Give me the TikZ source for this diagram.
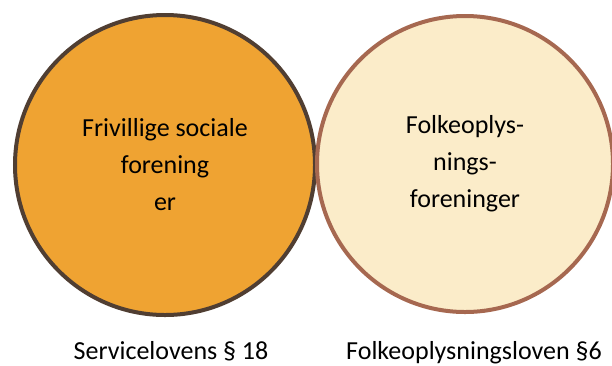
\documentclass[tikz,border=0pt]{standalone}
\usepackage{fontspec}
\setmainfont{Carlito}
\definecolor{orangefill}{RGB}{239,163,50}
\definecolor{darkbrown}{RGB}{80,62,50}
\definecolor{creamfill}{RGB}{251,236,201}
\definecolor{rustbrown}{RGB}{166,104,80}
\begin{document}
\begin{tikzpicture}[x=1bp, y=-1bp, font=\fontsize{26bp}{37bp}\selectfont,
  ring/.style={circle, line width=4bp, align=center, inner sep=0pt},
  law/.style={anchor=base}]

\useasboundingbox (0,0) rectangle (612,365);

\node[ring, draw=darkbrown, fill=orangefill, minimum size=300bp] (social) at (165,165) {Frivillige sociale\\forening\\er};
\node[ring, draw=rustbrown, fill=creamfill, minimum size=296bp] (folk) at (465,164) {Folkeoplys-\\nings-\\foreninger};

\node[law] (service) at (171,359) {Servicelovens § 18};
\node[law] (folkelov) at (474,359) {Folkeoplysningsloven §6};

\end{tikzpicture}
\end{document}
